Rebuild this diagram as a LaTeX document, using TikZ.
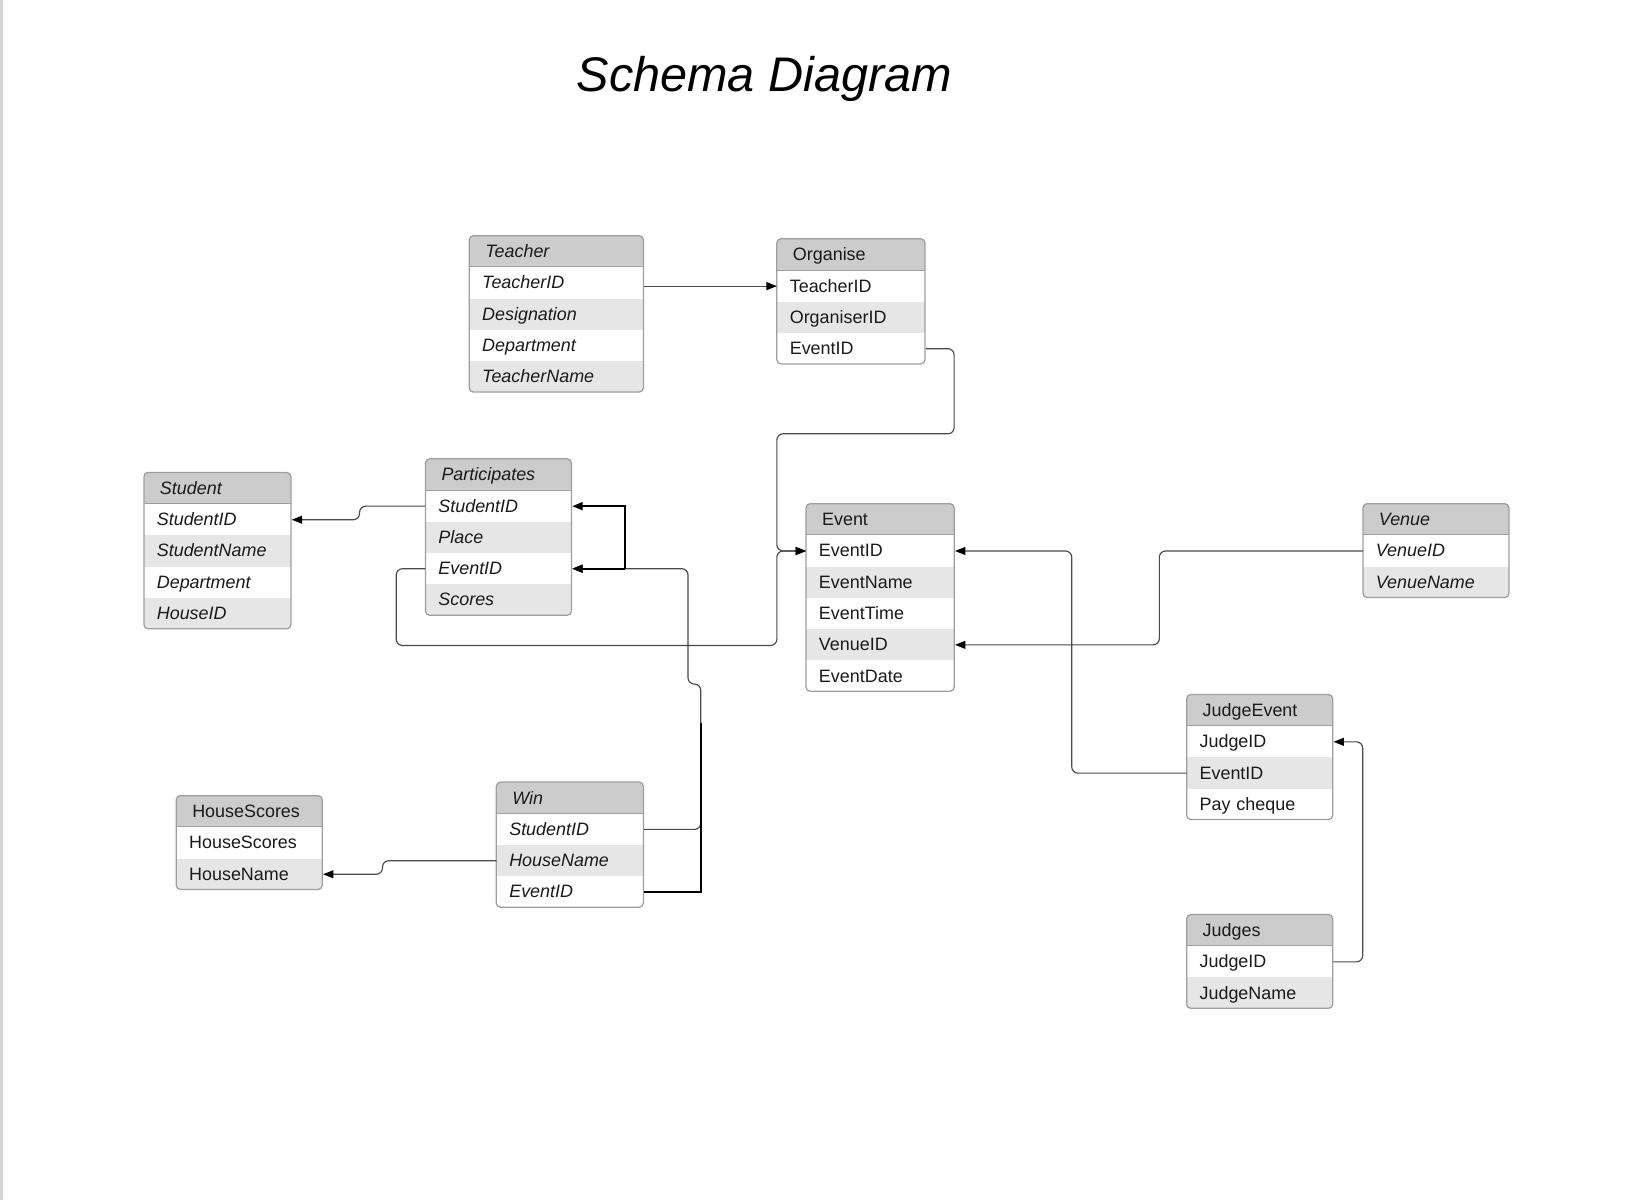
\documentclass[tikz,border=0pt]{standalone}
\usepackage{fontspec}
\setmainfont{Liberation Sans}
\usetikzlibrary{arrows.meta}
\definecolor{hdrgray}{HTML}{CCCCCC}
\definecolor{rowgray}{HTML}{E6E6E6}
\definecolor{boxgray}{HTML}{9E9E9E}
\definecolor{linegray}{HTML}{4A4A4A}
\definecolor{txt}{HTML}{1A1A1A}
\definecolor{stripgray}{HTML}{D3D3D3}
\newcommand\cellfont{\fontsize{8.6pt}{10pt}\selectfont}
\newcommand\ertable[8]{%
  \begin{scope}
    \clip[rounded corners=2pt] (#2,#3) rectangle ++(#4,{30*(#5+1)});
    \node[hdr, minimum width={#4*0.5pt}, text width={(#4-30)*0.5pt}] (#1-h) at (#2,#3) {#6#7};
    \foreach \r [count=\i] in {#8} {
      \ifodd\i\relax\def\rowfill{white}\else\def\rowfill{rowgray}\fi
      \node[cellrow, fill=\rowfill, minimum width={#4*0.5pt}, text width={(#4-24)*0.5pt}] (#1-\i) at (#2,{#3+30*\i}) {#6\r};
    }
  \end{scope}
  \draw[sepline] (#2,{#3+30}) -- ++(#4,0);
  \draw[boxline] (#2,#3) rectangle ++(#4,{30*(#5+1)});
}
\begin{document}
\begin{tikzpicture}[x=0.5pt,y=-0.5pt,
  hdr/.style={anchor=north west, inner ysep=0pt, inner xsep=7.5pt, minimum height=15pt,
    fill=hdrgray, align=left, text=txt, font=\cellfont, text height=7pt, text depth=1.3pt},
  cellrow/.style={anchor=north west, inner ysep=0pt, inner xsep=6pt, minimum height=15pt,
    align=left, text=txt, font=\cellfont, text height=7pt, text depth=1.3pt},
  sepline/.style={draw=boxgray, line width=0.5pt},
  boxline/.style={draw=boxgray, line width=0.6pt, rounded corners=2pt},
  conn/.style={draw=linegray, line width=0.55pt, rounded corners=3pt},
  blackconn/.style={draw=black, line width=1pt},
  tip/.style={-{Triangle[length=5pt,width=3.8pt,color=black]}},
  titlefont/.style={font=\fontsize{23.3pt}{28pt}\selectfont\itshape}]
\useasboundingbox (0,0) rectangle (1567,1151);
\fill[stripgray] (0,0) rectangle (3,1151);

\node[titlefont, anchor=base, text=black] (title) at (733,88) {Schema Diagram};

\ertable{teacher}{450}{226}{167}{4}{\itshape}{Teacher}{TeacherID,Designation,Department,TeacherName}
\ertable{organise}{745}{229}{142}{3}{}{Organise}{TeacherID,OrganiserID,EventID}
\ertable{student}{138}{453}{141}{4}{\itshape}{Student}{StudentID,StudentName,Department,HouseID}
\ertable{participates}{408}{440}{140}{4}{\itshape}{Participates}{StudentID,Place,EventID,Scores}
\ertable{event}{773}{483}{142}{5}{}{Event}{EventID,EventName,EventTime,VenueID,EventDate}
\ertable{venue}{1307}{483}{140}{2}{\itshape}{Venue}{VenueID,VenueName}
\ertable{judgeevent}{1138}{666}{140}{3}{}{JudgeEvent}{JudgeID,EventID,Pay cheque}
\ertable{judges}{1138}{877}{140}{2}{}{Judges}{JudgeID,JudgeName}
\ertable{housescores}{169}{763}{140}{2}{}{HouseScores}{HouseScores,HouseName}
\ertable{win}{476}{750}{141}{3}{\itshape}{Win}{StudentID,HouseName,EventID}

% connectors
\draw[conn,tip] (teacher-1.east |- organise-1.west) -- (organise-1.west);
\draw[conn,tip] (organise-3.east) -| (915,416) -- (745,416) |- (event-1.west);
\draw[conn,tip] (participates-1.west) -| ([xshift=32.5pt]student-1.east) -- (student-1.east);
\draw[conn,tip] (participates-3.west) -| (380,619) -- (745,619) |- (event-1.west);
\draw[conn,tip] (win-1.east) -| (672,656) -| ([xshift=55.5pt]participates-3.east) -- (participates-3.east);
\coordinate (winjoin) at (672,693);
\draw[blackconn] (win-3.east) -| (winjoin);
\coordinate (pjoin) at ([xshift=25.5pt]participates-3.east);
\draw[blackconn,tip] (pjoin) |- (participates-1.east);
\draw[blackconn,tip] (pjoin) -- (participates-3.east);
\draw[conn,tip] (judgeevent-2.west) -| ([xshift=56pt]event-1.east) -- (event-1.east);
\draw[conn,tip] (venue-1.west) -| ([xshift=98pt]event-4.east) -- (event-4.east);
\draw[conn,tip] (judges-1.east) -| ([xshift=14pt]judgeevent-1.east) -- (judgeevent-1.east);
\draw[conn,tip] (win-2.west) -| ([xshift=28.5pt]housescores-2.east) -- (housescores-2.east);
\end{tikzpicture}
\end{document}
